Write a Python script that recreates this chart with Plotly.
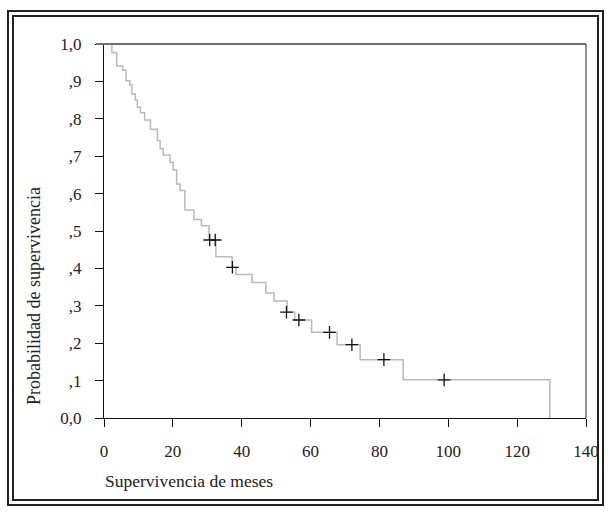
import plotly.graph_objects as go

# Kaplan-Meier step curve: event times (months) and survival after each step
event_times = [0, 2.3, 3.7, 5.4, 6.4, 7.5, 8.1, 9.1, 9.7, 10.6, 11.8, 13.5, 15.5, 16.3, 17.2,
               19.2, 20.1, 21.1, 22.1, 23.5, 26.1, 28.3, 30.5, 32.5, 37.2, 38.3, 43.0,
               47.0, 49.4, 53.2, 55.4, 60.3, 67.7, 74.4, 86.9, 129.5]
survival = [1.0, 0.977, 0.941, 0.930, 0.902, 0.890, 0.866, 0.850, 0.831, 0.816, 0.797, 0.772,
            0.742, 0.720, 0.703, 0.683, 0.663, 0.626, 0.608, 0.556, 0.531, 0.514, 0.476,
            0.431, 0.403, 0.384, 0.362, 0.334, 0.313, 0.283, 0.262, 0.229, 0.196, 0.156,
            0.102, 0.0]

# Censored observations
censor_times = [30.7, 32.3, 37.3, 53.0, 56.6, 65.5, 72.0, 81.3, 98.8]
censor_surv = [0.476, 0.476, 0.403, 0.283, 0.262, 0.229, 0.196, 0.156, 0.102]

x_ticks = [0, 20, 40, 60, 80, 100, 120, 140]
y_ticks = [0.0, 0.1, 0.2, 0.3, 0.4, 0.5, 0.6, 0.7, 0.8, 0.9, 1.0]
y_ticktext = ["0,0", ",1", ",2", ",3", ",4", ",5", ",6", ",7", ",8", ",9", "1,0"]

x_title = "Supervivencia de meses"
y_title = "Probabilidad de supervivencia"

FONT = "Liberation Serif"
W, H = 611, 512
L, R, T, B = 104, 25, 44, 94
pw, ph = W - L - R, H - T - B


def px2paper_x(px):
    return (px - L) / pw


def py2paper_y(py):
    return (H - B - py) / ph


fig = go.Figure()
fig.add_trace(go.Scatter(x=event_times, y=survival, mode="lines",
                         line=dict(shape="hv", color="#bababa", width=1.5),
                         hoverinfo="skip", showlegend=False))
fig.add_trace(go.Scatter(x=censor_times, y=censor_surv, mode="markers",
                         marker=dict(symbol="cross-thin", size=9,
                                     line=dict(color="#111111", width=1.3)),
                         showlegend=False))

shapes = []
# top line (grey) and right line
shapes.append(dict(type="line", xref="paper", yref="paper", x0=px2paper_x(96), x1=1, y0=1, y1=1,
                   line=dict(color="#707070", width=2)))
shapes.append(dict(type="line", xref="paper", yref="paper", x0=1, x1=1, y0=0, y1=1,
                   line=dict(color="#222222", width=1)))
# double frame
for (x0, y0, x1, y1) in [(8, 11, 603, 505), (13, 16, 598, 500)]:
    shapes.append(dict(type="rect", xref="paper", yref="paper",
                       x0=px2paper_x(x0), x1=px2paper_x(x1),
                       y0=py2paper_y(y1), y1=py2paper_y(y0),
                       line=dict(color="#222222", width=2), fillcolor="rgba(0,0,0,0)",
                       layer="above"))

annotations = [
    dict(text=x_title, xref="paper", yref="paper", x=px2paper_x(103), y=py2paper_y(481),
         xanchor="left", yanchor="middle", showarrow=False,
         font=dict(family=FONT, size=17.5, color="#222222")),
    dict(text=y_title, xref="paper", yref="paper", x=px2paper_x(34), y=py2paper_y(296),
         xanchor="center", yanchor="middle", showarrow=False, textangle=-90,
         font=dict(family=FONT, size=18, color="#222222")),
]

fig.update_layout(
    width=W, height=H,
    margin=dict(l=L, r=R, t=T, b=B, pad=0),
    paper_bgcolor="white", plot_bgcolor="white",
    shapes=shapes, annotations=annotations,
    xaxis=dict(range=[0, 140], tickvals=x_ticks, showline=True, linecolor="#111111", linewidth=1.2,
               ticks="outside", ticklen=8, tickcolor="#111111", tickwidth=1.2,
               showgrid=False, zeroline=False, ticklabelstandoff=9,
               tickfont=dict(family=FONT, size=17, color="#222222")),
    yaxis=dict(range=[0, 1], tickvals=y_ticks, ticktext=y_ticktext, showline=True,
               linecolor="#111111", linewidth=1.2, ticks="outside", ticklen=8,
               tickcolor="#111111", tickwidth=1.2, showgrid=False, zeroline=False,
               ticklabelstandoff=10,
               tickfont=dict(family=FONT, size=17, color="#222222")),
)

fig.write_html("out.html", config={"displayModeBar": False},
               post_script="document.body.style.margin='0';document.body.style.overflow='hidden';")
